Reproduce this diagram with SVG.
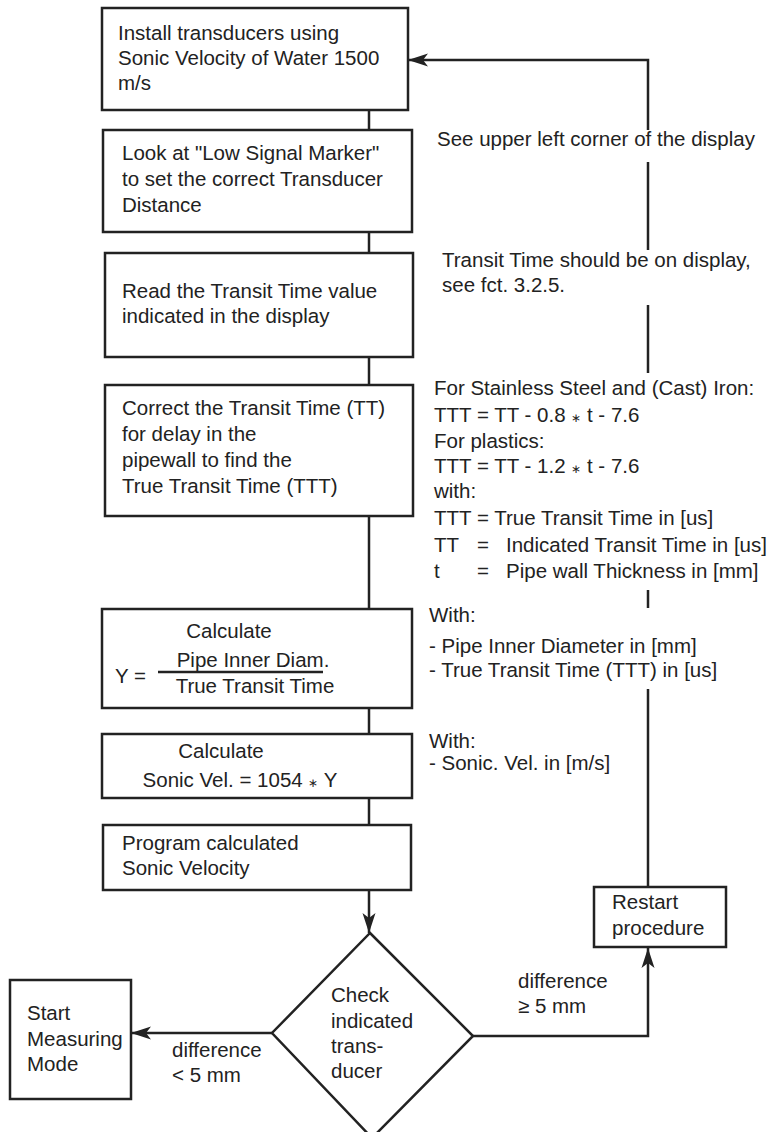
<svg xmlns="http://www.w3.org/2000/svg" width="777" height="1132" viewBox="0 0 777 1132">
<style>
  .box { fill: #fff; stroke: #222; stroke-width: 2.5; }
  .ln { fill: none; stroke: #222; stroke-width: 2.5; }
  text { font-family: "Liberation Sans", Arial, Helvetica, sans-serif; font-size: 20.5px; fill: #222; }
  .mid { text-anchor: middle; }
  .st { font-size: 12px; }
</style>
<defs>
  <marker id="arr" markerUnits="userSpaceOnUse" markerWidth="22" markerHeight="14" viewBox="0 -7 22 14" refX="20" refY="0" orient="auto">
    <path d="M0,-6.5 L20,0 L0,6.5 L5,0 Z" fill="#222"/>
  </marker>
</defs>
<rect width="777" height="1132" fill="#fff"/>

<g id="connectors">
  <line class="ln" x1="369" y1="110" x2="369" y2="130"/>
  <line class="ln" x1="369" y1="232" x2="369" y2="253"/>
  <line class="ln" x1="369" y1="357" x2="369" y2="385"/>
  <line class="ln" x1="369" y1="516" x2="369" y2="609"/>
  <line class="ln" x1="369" y1="708" x2="369" y2="734"/>
  <line class="ln" x1="369" y1="798" x2="369" y2="825"/>
  <line class="ln" x1="369" y1="890" x2="369" y2="933" marker-end="url(#arr)"/>
  <line class="ln" x1="272" y1="1033" x2="131" y2="1033" marker-end="url(#arr)"/>
  <polyline class="ln" points="473,1036 648,1036 648,948" marker-end="url(#arr)"/>
  <line class="ln" x1="648" y1="887" x2="648" y2="689"/>
  <line class="ln" x1="648" y1="608" x2="648" y2="590"/>
  <line class="ln" x1="648" y1="373" x2="648" y2="305"/>
  <line class="ln" x1="648" y1="250" x2="648" y2="162"/>
  <polyline class="ln" points="648,130 648,60 408,60" marker-end="url(#arr)"/>
  <text x="172" y="1057">difference</text>
  <text x="172" y="1082">&lt; 5 mm</text>
  <text x="518" y="988">difference</text>
  <text x="518" y="1013">≥ 5 mm</text>
</g>

<g id="n1">
  <rect class="box" x="102" y="8" width="306" height="102"/>
  <text x="118" y="40">Install transducers using</text>
  <text x="118" y="65">Sonic Velocity of Water 1500</text>
  <text x="118" y="90">m/s</text>
</g>
<g id="n2">
  <rect class="box" x="103" y="130" width="309" height="102"/>
  <text x="122" y="160">Look at "Low Signal Marker"</text>
  <text x="122" y="186">to set the correct Transducer</text>
  <text x="122" y="212">Distance</text>
</g>
<g id="n3">
  <rect class="box" x="105" y="253" width="308" height="104"/>
  <text x="122" y="298">Read the Transit Time value</text>
  <text x="122" y="323">indicated in the display</text>
</g>
<g id="n4">
  <rect class="box" x="105" y="385" width="308" height="131"/>
  <text x="122" y="415">Correct the Transit Time (TT)</text>
  <text x="122" y="441">for delay in the</text>
  <text x="122" y="467">pipewall to find the</text>
  <text x="122" y="493">True Transit Time (TTT)</text>
</g>
<g id="n5">
  <rect class="box" x="102" y="609" width="310" height="99"/>
  <text class="mid" x="229" y="638">Calculate</text>
  <text x="115" y="683">Y =</text>
  <text class="mid" x="253" y="667">Pipe Inner Diam.</text>
  <line class="ln" x1="158" y1="672" x2="323" y2="672"/>
  <text class="mid" x="255" y="693">True Transit Time</text>
</g>
<g id="n6">
  <rect class="box" x="102" y="734" width="310" height="64"/>
  <text class="mid" x="221" y="758">Calculate</text>
  <text class="mid" x="240" y="787">Sonic Vel. = 1054 <tspan class="st">∗</tspan> Y</text>
</g>
<g id="n7">
  <rect class="box" x="103" y="825" width="308" height="65"/>
  <text x="122" y="850">Program calculated</text>
  <text x="122" y="875">Sonic Velocity</text>
</g>
<g id="n8">
  <polygon class="box" points="370,933 473,1036 372,1138 272,1033"/>
  <text x="331" y="1002">Check</text>
  <text x="331" y="1028">indicated</text>
  <text x="331" y="1053">trans-</text>
  <text x="331" y="1078">ducer</text>
</g>
<g id="n9">
  <rect class="box" x="10" y="980" width="121" height="119"/>
  <text x="27" y="1020">Start</text>
  <text x="27" y="1046">Measuring</text>
  <text x="27" y="1071">Mode</text>
</g>
<g id="n10">
  <rect class="box" x="594" y="887" width="132" height="60"/>
  <text x="612" y="909">Restart</text>
  <text x="612" y="935">procedure</text>
</g>

<g id="notes">
  <text x="437" y="146">See upper left corner of the display</text>
  <text x="442" y="267">Transit Time should be on display,</text>
  <text x="442" y="292">see fct. 3.2.5.</text>
  <text x="434" y="395">For Stainless Steel and (Cast) Iron:</text>
  <text x="434" y="422">TTT = TT - 0.8 <tspan class="st">∗</tspan> t - 7.6</text>
  <text x="434" y="448">For plastics:</text>
  <text x="434" y="473">TTT = TT - 1.2 <tspan class="st">∗</tspan> t - 7.6</text>
  <text x="434" y="498">with:</text>
  <text x="434" y="525">TTT = True Transit Time in [us]</text>
  <text x="434" y="552">TT<tspan x="477">=</tspan><tspan x="506">Indicated Transit Time in [us]</tspan></text>
  <text x="434" y="578">t<tspan x="477">=</tspan><tspan x="506">Pipe wall Thickness in [mm]</tspan></text>
  <text x="429" y="622">With:</text>
  <text x="429" y="653">- Pipe Inner Diameter in [mm]</text>
  <text x="429" y="677">- True Transit Time (TTT) in [us]</text>
  <text x="429" y="748">With:</text>
  <text x="429" y="770">- Sonic. Vel. in [m/s]</text>
</g>
</svg>
